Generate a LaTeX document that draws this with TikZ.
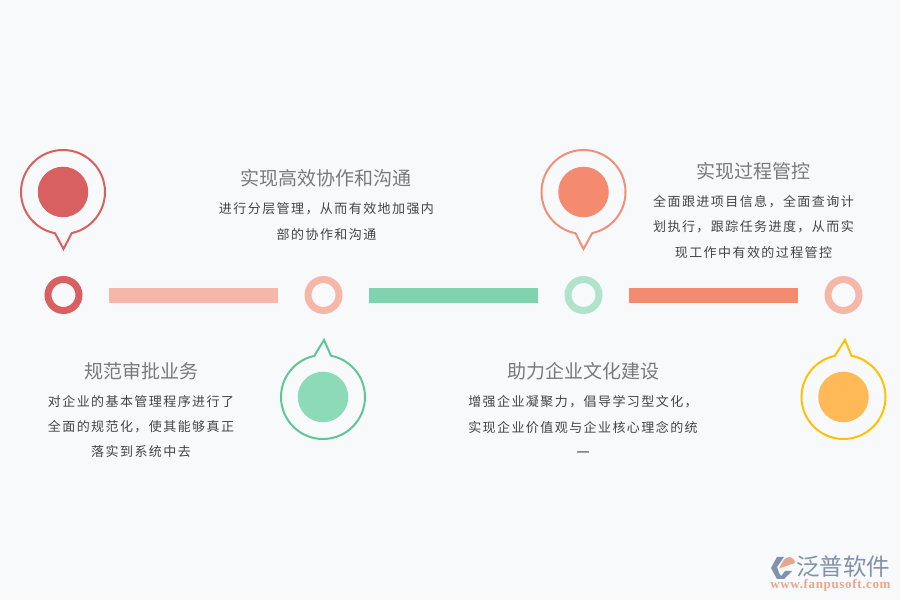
\documentclass[tikz,border=0pt]{standalone}
\usepackage{fontspec}
\setmainfont{Noto Sans CJK SC}
\newfontfamily\bodyfont[LetterSpace=11]{Noto Sans CJK SC}
\newfontfamily\urlfont[LetterSpace=5]{Liberation Serif}
\usetikzlibrary{calc}
\definecolor{bgc}{HTML}{F7F9FB}
\definecolor{redc}{HTML}{D96060}
\definecolor{salmonc}{HTML}{F5B7A8}
\definecolor{greenc}{HTML}{7FD3AE}
\definecolor{greenl}{HTML}{B0E2CC}
\definecolor{greenp}{HTML}{62C596}
\definecolor{greenf}{HTML}{8DDAB9}
\definecolor{orangec}{HTML}{F48A70}
\definecolor{orangep}{HTML}{F0907A}
\definecolor{yellowp}{HTML}{FFC107}
\definecolor{yellowf}{HTML}{FFB957}
\definecolor{titlec}{HTML}{7A7A7A}
\definecolor{bodyc}{HTML}{444444}
\definecolor{logob}{HTML}{8291AC}
\definecolor{logoo}{HTML}{E6A78C}
\tikzset{
  ringdot/.style={circle,draw=#1,line width=7pt,minimum size=31pt,inner sep=0pt,outer sep=0pt,fill=bgc},
  barbox/.style={fill=#1,minimum width=169pt,minimum height=15pt,inner sep=0pt,anchor=west},
  pindot/.style={circle,fill=#1,minimum size=50.5pt,inner sep=0pt},
  titletext/.style={text=titlec,font=\fontsize{19}{23}\selectfont,inner sep=0pt},
  bodytext/.style={text=bodyc,font=\fontsize{13}{25.3}\selectfont\bodyfont,align=center,inner sep=0pt},
  pic pin/.style={line width=2pt,fill=none,line join=miter}
}
% name, x, y(up), rotation, tail dx, colour, fill
\newcommand{\pinmark}[7]{%
  \node[pindot=#7] (#1) at (#2,#3) {};
  \begin{scope}[shift={(#2,#3)},rotate=#4]
    \draw[pic pin,draw=#6] (-78:42) arc[start angle=-78,end angle=259,radius=42] -- (#5,-57) -- cycle;
  \end{scope}%
}
\begin{document}
\begin{tikzpicture}[x=1pt,y=1pt]
\useasboundingbox (0,0) rectangle (900,600);
\fill[bgc] (0,0) rectangle (900,600);
% pins
\pinmark{pinA}{63}{408}{0}{0.5}{redc}{redc}
\pinmark{pinB}{323}{203}{180}{-1}{greenp}{greenf}
\pinmark{pinC}{583.5}{408}{0}{0}{orangep}{orangec}
\pinmark{pinD}{843.5}{203}{180}{-1.5}{yellowp}{yellowf}
% rings
\node[ringdot=redc] (r1) at (63.5,305) {};
\node[ringdot=salmonc] (r2) at (323.5,305) {};
\node[ringdot=greenl] (r3) at (583.5,305) {};
\node[ringdot=salmonc] (r4) at (843.5,305) {};
% bars
\node[barbox=salmonc] (b1) at (109,304.5) {};
\node[barbox=greenc] (b2) at (369,304.5) {};
\node[barbox=orangec] (b3) at (629,304.5) {};
% titles
\node[titletext] (t1) at (326,422) {实现高效协作和沟通};
\node[titletext] (t2) at (753,429) {实现过程管控};
\node[titletext] (t3) at (141,229) {规范审批业务};
\node[titletext] (t4) at (583,229) {助力企业文化建设};
% bodies
\node[bodytext] (d1) at (326.5,378.5) {进行分层管理，从而有效地加强内\\部的协作和沟通};
\node[bodytext] (d2) at (753.5,373) {全面跟进项目信息，全面查询计\\划执行，跟踪任务进度，从而实\\现工作中有效的过程管控};
\node[bodytext] (d3) at (141,173.5) {对企业的基本管理程序进行了\\全面的规范化，使其能够真正\\落实到系统中去};
\node[bodytext] (d4) at (583,173.5) {增强企业凝聚力，倡导学习型文化，\\实现企业价值观与企业核心理念的统\\一};
% logo
\fill[logob] (771,32) -- (777,43) -- (784,43) -- (777,33) -- (779,27) -- (783,21) -- (777,21) -- cycle;
\fill[logob] (779,21) -- (784,21) -- (792,29) -- (785,29) -- cycle;
\fill[logoo] (779,31.5) .. controls (782,38) and (785,43) .. (789,43) .. controls (792,43) and (795,40) .. (795,37) -- cycle;
\node[inner sep=0pt,text=logob,font=\fontsize{23.5}{25}\selectfont] (lg) at (843,33) {泛普软件};
\node[inner sep=0pt,text=logoo,font=\fontsize{13}{14}\selectfont\urlfont\bfseries] (lu) at (830.5,15) {www.fanpusoft.com};
\end{tikzpicture}
\end{document}
